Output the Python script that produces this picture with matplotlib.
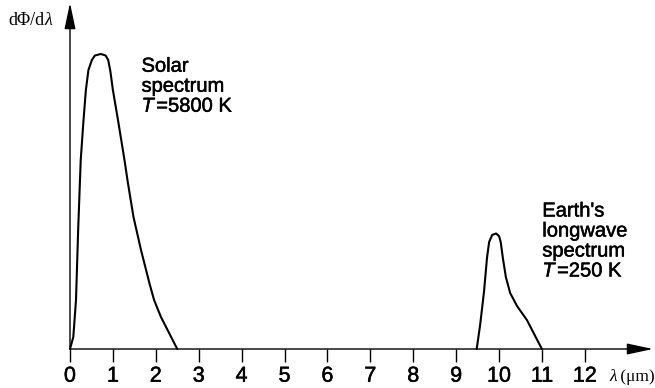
import matplotlib
matplotlib.use("Agg")
import matplotlib.pyplot as plt
import matplotlib.patheffects as pe

# ---- data (arbitrary flux units) ----
solar_lambda = [0.0, 0.077, 0.14, 0.19, 0.25, 0.31, 0.37, 0.43, 0.51, 0.58, 0.72,
                0.83, 0.89, 0.94, 1.00, 1.13, 1.27, 1.35, 1.48, 1.655, 1.85, 1.96,
                2.12, 2.31, 2.5]
solar_flux = [0, 12, 49, 119, 189, 226, 259, 279, 289, 293.5, 295,
              293.5, 289, 278, 259, 226, 189, 166, 132, 99, 66, 49,
              32, 16, 0]

earth_lambda = [9.48, 9.56, 9.65, 9.72, 9.77, 9.84, 9.93, 10.0, 10.04, 10.09,
                10.16, 10.26, 10.42, 10.65, 11.0]
earth_flux = [0, 24, 57, 91, 107, 114, 115.5, 113, 107, 91,
              72, 56, 43, 29, 0]

x_ticks = list(range(0, 13))
x_tick_labels = [str(t) for t in x_ticks]

solar_label = ["Solar", "spectrum"]
solar_temp = "=5800 K"
earth_label = ["Earth's", "longwave", "spectrum"]
earth_temp = "=250 K"

# ---- figure ----
W, H = 655, 388
fig = plt.figure(figsize=(W / 100, H / 100), dpi=100)
ax = fig.add_axes([0, 0, 1, 1])
ppu = 42.9      # pixels per micrometre
x0px = 70       # pixel of lambda = 0
y0px = 349      # pixel row of the x axis
ax.set_xlim(-x0px / ppu, (W - x0px) / ppu)
ax.set_ylim(-(H - y0px), y0px)
ax.patch.set_visible(False)

sans = "Liberation Sans"
serif = "Liberation Serif"
thick = [pe.withStroke(linewidth=0.35, foreground="black")]

for s in ["top", "right", "left"]:
    ax.spines[s].set_visible(False)
ax.spines["bottom"].set_position(("data", 0))
ax.spines["bottom"].set_color("none")
ax.set_yticks([])
ax.set_xticks(x_ticks)
ax.set_xticklabels(x_tick_labels, fontfamily=sans, fontsize=15.5)
for lab in ax.get_xticklabels():
    lab.set_path_effects(thick)
ax.tick_params(axis="x", direction="out", length=9.5, width=1.0, pad=2.5,
               color="black")

# axes with arrowheads
arrow_style = "-|>,head_length=1.6,head_width=0.34"
ax.annotate("", xy=(13.59, 0), xytext=(0, 0),
            arrowprops=dict(arrowstyle=arrow_style, lw=1.0, color="black",
                            shrinkA=0, shrinkB=0, mutation_scale=10))
ax.annotate("", xy=(0, 346), xytext=(0, 0),
            arrowprops=dict(arrowstyle=arrow_style, lw=1.0, color="black",
                            shrinkA=0, shrinkB=0, mutation_scale=10))

# curves
ax.plot(solar_lambda, solar_flux, color="black", lw=1.5, solid_joinstyle="round",
        solid_capstyle="round")
ax.plot(earth_lambda, earth_flux, color="black", lw=1.5, solid_joinstyle="round",
        solid_capstyle="round")

# labels
fs = 14.5
def block(x_px, base_px, lines, temp):
    xd = (x_px - x0px) / ppu
    y = y0px - base_px
    for ln in lines:
        ax.text(xd, y, ln, fontfamily=sans, fontsize=fs, va="baseline", ha="left",
                path_effects=thick)
        y -= 20
    t = ax.text(xd, y, "T", fontfamily=sans, fontstyle="italic", fontsize=fs,
                va="baseline", ha="left", path_effects=thick)
    ax.annotate(temp, xy=(1, 0), xycoords=t, xytext=(1.8, 0),
                textcoords="offset points", fontfamily=sans, fontsize=fs,
                va="bottom", ha="left", path_effects=thick)

block(141.5, 71.7, solar_label, solar_temp)
block(542.3, 216.5, earth_label, earth_temp)

# y label  dΦ/dλ
yl = ax.text((8 - x0px) / ppu, y0px - 25, "d\u03a6/d", fontfamily=serif,
             fontsize=13, va="baseline", ha="left")
ax.annotate("\u03bb", xy=(1, 0), xycoords=yl, xytext=(0, 0),
            textcoords="offset points", fontfamily=serif, fontstyle="italic",
            fontsize=13, va="bottom", ha="left")

# x label  λ (μm)
xl = ax.text((609 - x0px) / ppu, y0px - 381, "\u03bb", fontfamily=serif,
             fontstyle="italic", fontsize=12.5, va="baseline", ha="left")
ax.annotate(" (\u03bcm)", xy=(1, 0), xycoords=xl, xytext=(0, 0),
            textcoords="offset points", fontfamily=serif, fontsize=12.5,
            va="bottom", ha="left")

fig.savefig("out.png", dpi=100, facecolor="white")
